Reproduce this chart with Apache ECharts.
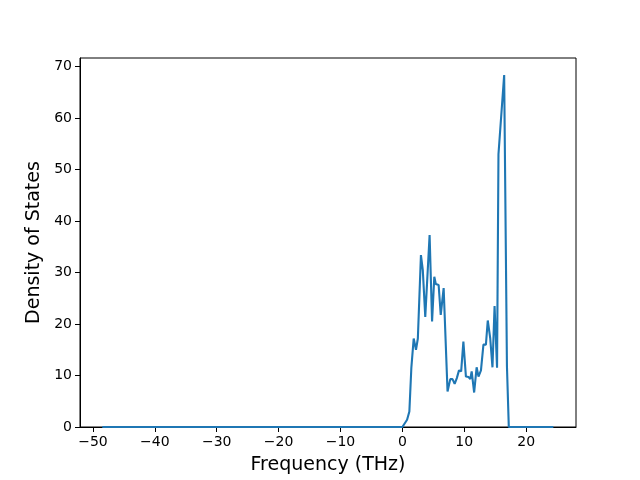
<!DOCTYPE html>
<html><head><meta charset="utf-8">
<script src="https://cdn.jsdelivr.net/npm/echarts@6/dist/echarts.min.js"></script>
<style>html,body{margin:0;padding:0;background:#fff}#c{width:640px;height:480px}</style>
</head><body><div id="c"></div>
<script>
const freq = [-48.5, 0.0, 0.2, 0.76, 1.13, 1.45, 1.83, 2.2, 2.5, 3.0, 3.3, 3.7, 4.4, 4.8, 5.16, 5.4, 5.86, 6.2, 6.67, 7.3, 7.74, 8.1, 8.45, 8.8, 9.15, 9.5, 9.86, 10.27, 10.7, 10.97, 11.2, 11.6, 12.0, 12.3, 12.7, 13.1, 13.5, 13.8, 14.2, 14.56, 14.9, 15.3, 15.53, 16.45, 16.9, 17.2, 24.4];
const dos  = [0, 0, 0, 1.4, 3.0, 11.5, 17.2, 15.0, 17.2, 33.4, 30.5, 21.4, 37.3, 20.5, 29.2, 27.8, 27.6, 21.8, 27.0, 6.9, 9.3, 9.3, 8.4, 9.5, 11.0, 10.8, 16.6, 9.8, 9.7, 9.3, 10.8, 6.7, 11.6, 9.8, 11.0, 16.0, 16.0, 20.7, 17.2, 11.6, 23.5, 11.5, 53.0, 68.4, 11.8, 0, 0];
const xTicks = [-50, -40, -30, -20, -10, 0, 10, 20];
const yTicks = [0, 10, 20, 30, 40, 50, 60, 70];

const chart = echarts.init(document.getElementById('c'), null, {renderer: 'canvas'});
const font = 'DejaVu Sans';
chart.setOption({
  animation: false,
  grid: {left: 80, right: 64, top: 58, bottom: 53, show: true, borderColor: '#000', borderWidth: 1, backgroundColor: 'transparent'},
  xAxis: {
    type: 'value', min: -52.1, max: 28.06,
    name: 'Frequency (THz)', nameLocation: 'middle', nameGap: 29,
    nameTextStyle: {fontFamily: font, fontSize: 19, color: '#000'},
    axisLine: {show: true, onZero: false, lineStyle: {color: '#000', width: 1}},
    axisTick: {show: true, inside: false, length: 5, lineStyle: {color: '#000'}, customValues: xTicks},
    axisLabel: {fontFamily: font, fontSize: 14, color: '#000', margin: 8, customValues: xTicks,
      formatter: v => (v < 0 ? '\u2212' + Math.abs(v) : String(v))},
    splitLine: {show: false}
  },
  yAxis: {
    type: 'value', min: 0, max: 71.7,
    name: 'Density of States', nameLocation: 'middle', nameGap: 31,
    nameTextStyle: {fontFamily: font, fontSize: 19, color: '#000'},
    axisLine: {show: true, onZero: false, lineStyle: {color: '#000', width: 1}},
    axisTick: {show: true, inside: false, length: 5, lineStyle: {color: '#000'}, customValues: yTicks},
    axisLabel: {fontFamily: font, fontSize: 14, color: '#000', margin: 8, customValues: yTicks},
    splitLine: {show: false}
  },
  series: [{
    type: 'line',
    data: freq.map((f, i) => [f, dos[i]]),
    showSymbol: false,
    lineStyle: {color: '#1f77b4', width: 2.1},
    itemStyle: {color: '#1f77b4'},
    clip: true
  }]
});
</script></body></html>
